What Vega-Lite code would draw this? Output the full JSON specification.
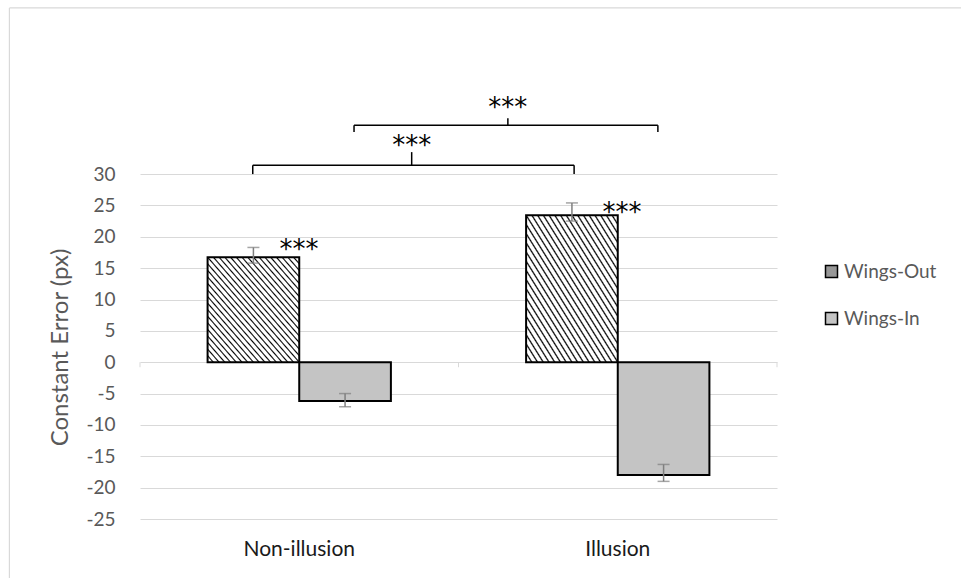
{
  "$schema": "https://vega.github.io/schema/vega-lite/v6.json",
  "width": 637,
  "height": 439,
  "autosize": {"type": "none"},
  "padding": {"left": 140, "top": 80, "right": 184, "bottom": 59},
  "background": "white",
  "config": {"view": {"stroke": null}, "font": "Lato"},
  "datasets": {
    "bars": [
      {"condition": "Non-illusion", "series": "Wings-Out", "mean": 16.75, "lo": 15.8, "hi": 18.3},
      {"condition": "Non-illusion", "series": "Wings-In", "mean": -6.2, "lo": -7.1, "hi": -5.0},
      {"condition": "Illusion", "series": "Wings-Out", "mean": 23.45, "lo": 22.5, "hi": 25.4},
      {"condition": "Illusion", "series": "Wings-In", "mean": -18.0, "lo": -19.0, "hi": -16.3}
    ],
    "brackets": [
      {"x": 0.354, "x2": 1.363, "y": 31.4, "y2": 31.4},
      {"x": 0.354, "x2": 0.354, "y": 31.4, "y2": 30.0},
      {"x": 1.363, "x2": 1.363, "y": 31.4, "y2": 30.0},
      {"x": 0.853, "x2": 0.853, "y": 31.4, "y2": 33.5},
      {"x": 0.672, "x2": 1.626, "y": 37.8, "y2": 37.8},
      {"x": 0.672, "x2": 0.672, "y": 37.8, "y2": 36.7},
      {"x": 1.626, "x2": 1.626, "y": 37.8, "y2": 36.7},
      {"x": 1.155, "x2": 1.155, "y": 37.8, "y2": 38.9}
    ],
    "stars": [
      {"x": 0.853, "y": 35.2, "label": "***"},
      {"x": 1.155, "y": 41.3, "label": "***"},
      {"x": 0.499, "y": 18.7, "label": "***"},
      {"x": 1.513, "y": 24.6, "label": "***"}
    ],
    "axisticks": [
      {"x": 0, "x2": 0, "y": 0, "y2": -0.8},
      {"x": 1, "x2": 1, "y": 0, "y2": -0.8},
      {"x": 2, "x2": 2, "y": 0, "y2": -0.8}
    ],
    "frame": [
      {"x": -0.41, "x2": -0.41, "y": 56.5, "y2": -40},
      {"x": -0.41, "x2": 3, "y": 56.5, "y2": 56.5}
    ]
  },
  "layer": [
    {
      "layer": [
        {
          "data": {"name": "bars"},
          "mark": {"type": "bar", "stroke": "black", "strokeWidth": 2},
          "encoding": {
            "x": {
              "field": "condition", "type": "nominal", "sort": ["Non-illusion", "Illusion"],
              "scale": {"paddingInner": 0.4245, "paddingOuter": 0.2122},
              "axis": {"title": null, "domain": false, "ticks": false, "grid": false, "labelAngle": 0, "labelFontSize": 21, "labelColor": "#1a1a1a", "labelPadding": 19}
            },
            "xOffset": {"field": "series", "type": "nominal", "sort": ["Wings-Out", "Wings-In"], "scale": {"paddingInner": 0, "paddingOuter": 0}},
            "y": {
              "field": "mean", "type": "quantitative",
              "scale": {"domain": [-25, 45], "nice": false, "zero": false},
              "axis": {
                "values": [-25, -20, -15, -10, -5, 0, 5, 10, 15, 20, 25, 30],
                "tickCount": 30,
                "labelExpr": "'' + datum.value", "labelOverlap": false,
                "grid": true, "gridColor": "#d9d9d9", "gridWidth": 1, "domain": false, "ticks": false,
                "labelPadding": 25, "labelFontSize": 19, "labelColor": "#595959",
                "title": "Constant Error (px)", "titleFontSize": 24, "titleColor": "#595959", "titleFontWeight": "normal",
                "titleX": -73, "titleY": 267, "titleAngle": -90, "titleAlign": "center", "titleBaseline": "alphabetic"
              }
            },
            "fill": {
              "condition": {
                "test": "datum.series === 'Wings-Out'",
                "value": {"gradient": "linear", "x1": 1, "y1": 0, "x2": 0, "y2": 1, "stops": [
                    {"offset": 0, "color": "#000"}, {"offset": 0.0078, "color": "#fff"}, {"offset": 0.0234, "color": "#fff"},
                    {"offset": 0.0313, "color": "#000"}, {"offset": 0.0391, "color": "#fff"}, {"offset": 0.0547, "color": "#fff"},
                    {"offset": 0.0625, "color": "#000"}, {"offset": 0.0703, "color": "#fff"}, {"offset": 0.0859, "color": "#fff"},
                    {"offset": 0.0938, "color": "#000"}, {"offset": 0.1016, "color": "#fff"}, {"offset": 0.1172, "color": "#fff"},
                    {"offset": 0.125, "color": "#000"}, {"offset": 0.1328, "color": "#fff"}, {"offset": 0.1484, "color": "#fff"},
                    {"offset": 0.1563, "color": "#000"}, {"offset": 0.1641, "color": "#fff"}, {"offset": 0.1797, "color": "#fff"},
                    {"offset": 0.1875, "color": "#000"}, {"offset": 0.1953, "color": "#fff"}, {"offset": 0.2109, "color": "#fff"},
                    {"offset": 0.2188, "color": "#000"}, {"offset": 0.2266, "color": "#fff"}, {"offset": 0.2422, "color": "#fff"},
                    {"offset": 0.25, "color": "#000"}, {"offset": 0.2578, "color": "#fff"}, {"offset": 0.2734, "color": "#fff"},
                    {"offset": 0.2813, "color": "#000"}, {"offset": 0.2891, "color": "#fff"}, {"offset": 0.3047, "color": "#fff"},
                    {"offset": 0.3125, "color": "#000"}, {"offset": 0.3203, "color": "#fff"}, {"offset": 0.3359, "color": "#fff"},
                    {"offset": 0.3438, "color": "#000"}, {"offset": 0.3516, "color": "#fff"}, {"offset": 0.3672, "color": "#fff"},
                    {"offset": 0.375, "color": "#000"}, {"offset": 0.3828, "color": "#fff"}, {"offset": 0.3984, "color": "#fff"},
                    {"offset": 0.4063, "color": "#000"}, {"offset": 0.4141, "color": "#fff"}, {"offset": 0.4297, "color": "#fff"},
                    {"offset": 0.4375, "color": "#000"}, {"offset": 0.4453, "color": "#fff"}, {"offset": 0.4609, "color": "#fff"},
                    {"offset": 0.4688, "color": "#000"}, {"offset": 0.4766, "color": "#fff"}, {"offset": 0.4922, "color": "#fff"},
                    {"offset": 0.5, "color": "#000"}, {"offset": 0.5078, "color": "#fff"}, {"offset": 0.5234, "color": "#fff"},
                    {"offset": 0.5313, "color": "#000"}, {"offset": 0.5391, "color": "#fff"}, {"offset": 0.5547, "color": "#fff"},
                    {"offset": 0.5625, "color": "#000"}, {"offset": 0.5703, "color": "#fff"}, {"offset": 0.5859, "color": "#fff"},
                    {"offset": 0.5938, "color": "#000"}, {"offset": 0.6016, "color": "#fff"}, {"offset": 0.6172, "color": "#fff"},
                    {"offset": 0.625, "color": "#000"}, {"offset": 0.6328, "color": "#fff"}, {"offset": 0.6484, "color": "#fff"},
                    {"offset": 0.6563, "color": "#000"}, {"offset": 0.6641, "color": "#fff"}, {"offset": 0.6797, "color": "#fff"},
                    {"offset": 0.6875, "color": "#000"}, {"offset": 0.6953, "color": "#fff"}, {"offset": 0.7109, "color": "#fff"},
                    {"offset": 0.7188, "color": "#000"}, {"offset": 0.7266, "color": "#fff"}, {"offset": 0.7422, "color": "#fff"},
                    {"offset": 0.75, "color": "#000"}, {"offset": 0.7578, "color": "#fff"}, {"offset": 0.7734, "color": "#fff"},
                    {"offset": 0.7813, "color": "#000"}, {"offset": 0.7891, "color": "#fff"}, {"offset": 0.8047, "color": "#fff"},
                    {"offset": 0.8125, "color": "#000"}, {"offset": 0.8203, "color": "#fff"}, {"offset": 0.8359, "color": "#fff"},
                    {"offset": 0.8438, "color": "#000"}, {"offset": 0.8516, "color": "#fff"}, {"offset": 0.8672, "color": "#fff"},
                    {"offset": 0.875, "color": "#000"}, {"offset": 0.8828, "color": "#fff"}, {"offset": 0.8984, "color": "#fff"},
                    {"offset": 0.9063, "color": "#000"}, {"offset": 0.9141, "color": "#fff"}, {"offset": 0.9297, "color": "#fff"},
                    {"offset": 0.9375, "color": "#000"}, {"offset": 0.9453, "color": "#fff"}, {"offset": 0.9609, "color": "#fff"},
                    {"offset": 0.9688, "color": "#000"}, {"offset": 0.9766, "color": "#fff"}, {"offset": 0.9922, "color": "#fff"},
                    {"offset": 1, "color": "#000"}
                ]}
              },
              "value": "#c4c4c4"
            }
          }
        },
        {
          "data": {"name": "bars"},
          "mark": {"type": "point", "filled": true, "opacity": 0, "size": 1},
          "encoding": {
            "x": {"field": "condition", "type": "nominal", "sort": ["Non-illusion", "Illusion"]},
            "y": {"field": "mean", "type": "quantitative"},
            "fill": {
              "field": "series", "type": "nominal",
              "scale": {"domain": ["Wings-Out", "Wings-In"], "range": ["#979797", "#c4c4c4"]},
              "legend": {
                "title": null, "orient": "none", "legendX": 682, "legendY": 182, "padding": 0,
                "symbolType": "square", "symbolSize": 144, "symbolOpacity": 1, "symbolStrokeColor": "black", "symbolStrokeWidth": 1.5,
                "labelFontSize": 19, "labelColor": "#595959", "labelOffset": 3, "rowPadding": 27
              }
            }
          }
        },
        {
          "data": {"name": "bars"},
          "mark": {"type": "rule", "color": "#7f7f7f", "strokeWidth": 1.5},
          "encoding": {
            "x": {"field": "condition", "type": "nominal", "sort": ["Non-illusion", "Illusion"]},
            "xOffset": {"field": "series", "type": "nominal", "sort": ["Wings-Out", "Wings-In"]},
            "y": {"field": "lo", "type": "quantitative"},
            "y2": {"field": "hi"}
          }
        },
        {
          "data": {"name": "bars"},
          "mark": {"type": "tick", "color": "#7f7f7f", "size": 12, "thickness": 1.5},
          "encoding": {
            "x": {"field": "condition", "type": "nominal", "sort": ["Non-illusion", "Illusion"]},
            "xOffset": {"field": "series", "type": "nominal", "sort": ["Wings-Out", "Wings-In"]},
            "y": {"field": "lo", "type": "quantitative"}
          }
        },
        {
          "data": {"name": "bars"},
          "mark": {"type": "tick", "color": "#7f7f7f", "size": 12, "thickness": 1.5},
          "encoding": {
            "x": {"field": "condition", "type": "nominal", "sort": ["Non-illusion", "Illusion"]},
            "xOffset": {"field": "series", "type": "nominal", "sort": ["Wings-Out", "Wings-In"]},
            "y": {"field": "hi", "type": "quantitative"}
          }
        }
      ]
    },
    {
      "layer": [
        {
          "data": {"name": "frame"},
          "mark": {"type": "rule", "color": "#d9d9d9", "strokeWidth": 1.2},
          "encoding": {
            "x": {"field": "x", "type": "quantitative", "scale": {"domain": [0, 2], "nice": false, "zero": false}, "axis": null},
            "x2": {"field": "x2"},
            "y": {"field": "y", "type": "quantitative"},
            "y2": {"field": "y2"}
          }
        },
        {
          "data": {"name": "axisticks"},
          "mark": {"type": "rule", "color": "#d9d9d9", "strokeWidth": 1},
          "encoding": {
            "x": {"field": "x", "type": "quantitative"},
            "x2": {"field": "x2"},
            "y": {"field": "y", "type": "quantitative"},
            "y2": {"field": "y2"}
          }
        },
        {
          "data": {"name": "brackets"},
          "mark": {"type": "rule", "color": "black", "strokeWidth": 1.5},
          "encoding": {
            "x": {"field": "x", "type": "quantitative"},
            "x2": {"field": "x2"},
            "y": {"field": "y", "type": "quantitative"},
            "y2": {"field": "y2"}
          }
        },
        {
          "data": {"name": "stars"},
          "mark": {"type": "text", "font": "DejaVu Sans", "fontSize": 26, "color": "black", "baseline": "alphabetic", "align": "center", "dy": 13},
          "encoding": {
            "x": {"field": "x", "type": "quantitative"},
            "y": {"field": "y", "type": "quantitative"},
            "text": {"field": "label"}
          }
        }
      ]
    }
  ],
  "resolve": {"scale": {"x": "independent"}}
}
